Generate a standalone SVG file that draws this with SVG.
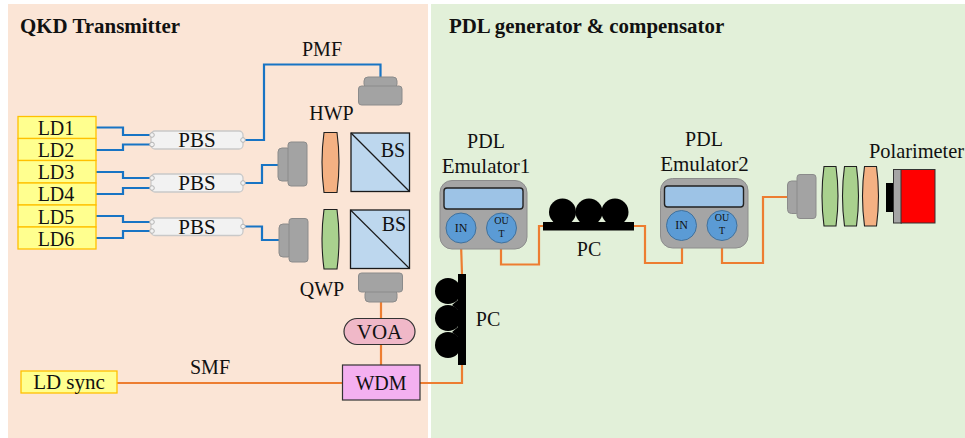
<svg xmlns="http://www.w3.org/2000/svg" width="965" height="438" viewBox="0 0 965 438">
<style>
text{font-family:"Liberation Serif","Times New Roman",serif;fill:#111;text-anchor:middle}
.t{font-size:20px}
.w{font-size:21px}
.h{font-size:20.900px;font-weight:bold;text-anchor:start}
.p{font-size:10px}
.i{font-size:12px}
.ld{fill:#ffff8f;stroke:#ffc000;stroke-width:1.3}
.pbs{fill:#f2f2f2;stroke:#c9c9c9;stroke-width:1.3}
.port{fill:#f2f2f2;stroke:#b5b5b5;stroke-width:1}
.g{fill:#a3a3a3;stroke:#8b8b8b;stroke-width:1}
.bs{fill:#bdd7ee;stroke:#1a1a1a;stroke-width:1.3}
.ln{fill:none;stroke:#1a1a1a;stroke-width:1.2}
.em{fill:#a5a5a5;stroke:#8c8c8c;stroke-width:1}
.sc{fill:#9dc3e6;stroke:#222;stroke-width:1.4}
.c{fill:#5b9bd5;stroke:#41719c;stroke-width:1}
.gr{fill:#a9d18e;stroke:#1f1f1f;stroke-width:1.1}
.or{fill:#f4b183;stroke:#1f1f1f;stroke-width:1.1}
.blue{fill:none;stroke:#1874c4;stroke-width:2.200}
.orange{fill:none;stroke:#ed7d31;stroke-width:2.200}
</style>
<rect width="965" height="438" fill="#fff"/>
<rect x="8" y="4" width="420" height="434" fill="#fbe5d6"/>
<rect x="431" y="4" width="534" height="434" fill="#e2f0d9"/>
<text class="h" x="20" y="33">QKD Transmitter</text>
<text class="h" x="449" y="33">PDL generator &amp; compensator</text>

<g id="connectors">
<path class="blue" d="M96 127.500H123V135H150"/>
<path class="blue" d="M96 150H123V144.500H150"/>
<path class="blue" d="M243 140H264V64.500H380.500V77"/>
<path class="blue" d="M96 172H123V178H150"/>
<path class="blue" d="M96 194H123V188H150"/>
<path class="blue" d="M243 183H262V165H278"/>
<path class="blue" d="M96 216H123V222H150"/>
<path class="blue" d="M96 238H123V231H150"/>
<path class="blue" d="M243 226.500H262V240H279"/>
<path class="orange" d="M381 302V318"/>
<path class="orange" d="M381 344V365"/>
<path class="orange" d="M117 383H342"/>
<path class="orange" d="M420 383H462V365"/>
<path class="orange" d="M462 274L461 243"/>
<path class="orange" d="M501 243V264.500H539V226H543"/>
<path class="orange" d="M634 226H645V263H682V248"/>
<path class="orange" d="M722 248V263H763V197H788"/>
</g>

<g id="ld1"><rect class="ld" x="18" y="116.500" width="78" height="22"/><text class="t" x="56" y="135">LD1</text></g>
<g id="ld2"><rect class="ld" x="18" y="138.500" width="78" height="22"/><text class="t" x="56" y="157">LD2</text></g>
<g id="ld3"><rect class="ld" x="18" y="160.500" width="78" height="22.500"/><text class="t" x="56" y="179">LD3</text></g>
<g id="ld4"><rect class="ld" x="18" y="183" width="78" height="22"/><text class="t" x="56" y="201">LD4</text></g>
<g id="ld5"><rect class="ld" x="18" y="205" width="78" height="22"/><text class="t" x="56" y="223.500">LD5</text></g>
<g id="ld6"><rect class="ld" x="18" y="227" width="78" height="22"/><text class="t" x="56" y="245.500">LD6</text></g>

<g id="pbs1"><rect class="pbs" x="151" y="131" width="92" height="18" rx="4"/><circle class="port" cx="152" cy="135" r="2.300"/><circle class="port" cx="152" cy="144.500" r="2.300"/><circle class="port" cx="243" cy="140" r="2.300"/><text class="w" x="197" y="147">PBS</text></g>
<g id="pbs2"><rect class="pbs" x="151" y="174" width="92" height="18" rx="4"/><circle class="port" cx="152" cy="178" r="2.300"/><circle class="port" cx="152" cy="188" r="2.300"/><circle class="port" cx="243" cy="183" r="2.300"/><text class="w" x="197" y="190">PBS</text></g>
<g id="pbs3"><rect class="pbs" x="151" y="218" width="92" height="17.500" rx="4"/><circle class="port" cx="152" cy="222" r="2.300"/><circle class="port" cx="152" cy="231" r="2.300"/><circle class="port" cx="243" cy="226.500" r="2.300"/><text class="w" x="197" y="234">PBS</text></g>

<g id="pmf-label"><text class="t" x="322" y="56">PMF</text></g>
<g id="coll-top"><rect class="g" x="364" y="77" width="33" height="11" rx="4"/><rect class="g" x="358.500" y="86" width="43.500" height="19" rx="3"/></g>
<g id="hwp-label"><text class="t" x="331.500" y="120">HWP</text></g>
<g id="coll-1"><rect class="g" x="278" y="148" width="13" height="33" rx="4"/><rect class="g" x="288" y="142" width="19" height="44" rx="3"/></g>
<g id="hwp"><path class="or" d="M324 132.500H337Q341 162 337 192.500H324Q320 162 324 132.500Z"/></g>
<g id="bs1"><rect class="bs" x="351" y="133" width="58.500" height="58.500"/><path class="ln" d="M351 133L409.500 191.500"/><text class="t" x="393" y="157">BS</text></g>
<g id="coll-2"><rect class="g" x="279" y="224" width="13" height="33" rx="4"/><rect class="g" x="289" y="218.500" width="19" height="43.500" rx="3"/></g>
<g id="qwp"><path class="gr" d="M324 209.500H337Q341 239 337 269H324Q320 239 324 209.500Z"/></g>
<g id="bs2"><rect class="bs" x="350.500" y="210" width="59" height="58.500"/><path class="ln" d="M350.500 210L409.500 268.500"/><text class="t" x="394" y="231">BS</text></g>
<g id="coll-3"><rect class="g" x="365" y="290" width="32" height="12" rx="4"/><rect class="g" x="358.500" y="273" width="44" height="19" rx="3"/></g>
<g id="qwp-label"><text class="t" x="322" y="296">QWP</text></g>
<g id="voa"><rect x="344" y="318.500" width="71" height="26" rx="13" fill="#f0b8c8" stroke="#333" stroke-width="1.2"/><text class="w" x="379.500" y="339">VOA</text></g>
<g id="wdm"><rect x="342.500" y="365" width="77.500" height="35" fill="#f4b0f0" stroke="#333" stroke-width="1.2"/><text class="t" x="381" y="390">WDM</text></g>
<g id="ld-sync"><rect class="ld" x="21" y="371" width="96" height="22"/><text class="w" x="69" y="389">LD sync</text></g>
<g id="smf-label"><text class="t" x="210" y="374">SMF</text></g>

<g id="pc1"><rect x="458" y="274" width="8" height="91" fill="#000"/><circle cx="448" cy="291" r="13"/><circle cx="448" cy="318" r="13"/><circle cx="448" cy="345" r="13"/><path d="M458 300V310L452 305ZM458 327V337L452 332Z" fill="#000"/><text class="t" x="488" y="326">PC</text></g>

<g id="emulator1"><text class="t" x="486" y="148">PDL</text><text class="w" x="486" y="173">Emulator1</text><rect class="em" x="440" y="180.500" width="87" height="68.500" rx="12"/><rect class="sc" x="444" y="188" width="79" height="21" rx="3"/><circle class="c" cx="461" cy="228" r="15"/><circle class="c" cx="501.500" cy="228" r="15"/><text class="i" x="461" y="231.500">IN</text><text class="p" x="501.500" y="223.500">OU</text><text class="p" x="501.500" y="236.500">T</text></g>

<g id="pc2"><rect x="543" y="222" width="91" height="8.500" fill="#000"/><circle cx="562.500" cy="212" r="13.500"/><circle cx="589" cy="212" r="13.500"/><circle cx="615" cy="212" r="13.500"/><text class="t" x="589" y="256">PC</text></g>

<g id="emulator2"><text class="t" x="704" y="146">PDL</text><text class="w" x="704.500" y="171">Emulator2</text><rect class="em" x="660.500" y="178.500" width="87.500" height="69.500" rx="12"/><rect class="sc" x="664.500" y="186" width="79" height="21" rx="3"/><circle class="c" cx="681.500" cy="225.500" r="15"/><circle class="c" cx="722" cy="225.500" r="15"/><text class="i" x="681.500" y="229">IN</text><text class="p" x="722" y="221">OU</text><text class="p" x="722" y="234">T</text></g>

<g id="coll-4"><rect class="g" x="787.500" y="181" width="13" height="32.500" rx="4"/><rect class="g" x="797" y="174.500" width="19" height="44" rx="3"/></g>
<g id="lens-1"><path class="gr" d="M824 166.500H836Q840 196 836 226H824Q820 196 824 166.500Z"/></g>
<g id="lens-2"><path class="gr" d="M844.500 166.500H856.500Q860.500 196 856.500 226H844.500Q840.500 196 844.500 166.500Z"/></g>
<g id="lens-3"><path class="or" d="M864.500 166.500H876.500Q880.500 196 876.500 226H864.500Q860.500 196 864.500 166.500Z"/></g>
<g id="polarimeter"><rect x="886" y="183" width="8" height="29" fill="#000"/><rect x="893.500" y="169.500" width="8" height="53.500" fill="#a5a5a5" stroke="#333"/><rect x="901" y="169.500" width="34" height="53.500" fill="#ff0000" stroke="#333"/><text x="869" y="158" style="text-anchor:start;font-size:20.400px">Polarimeter</text></g>
</svg>
